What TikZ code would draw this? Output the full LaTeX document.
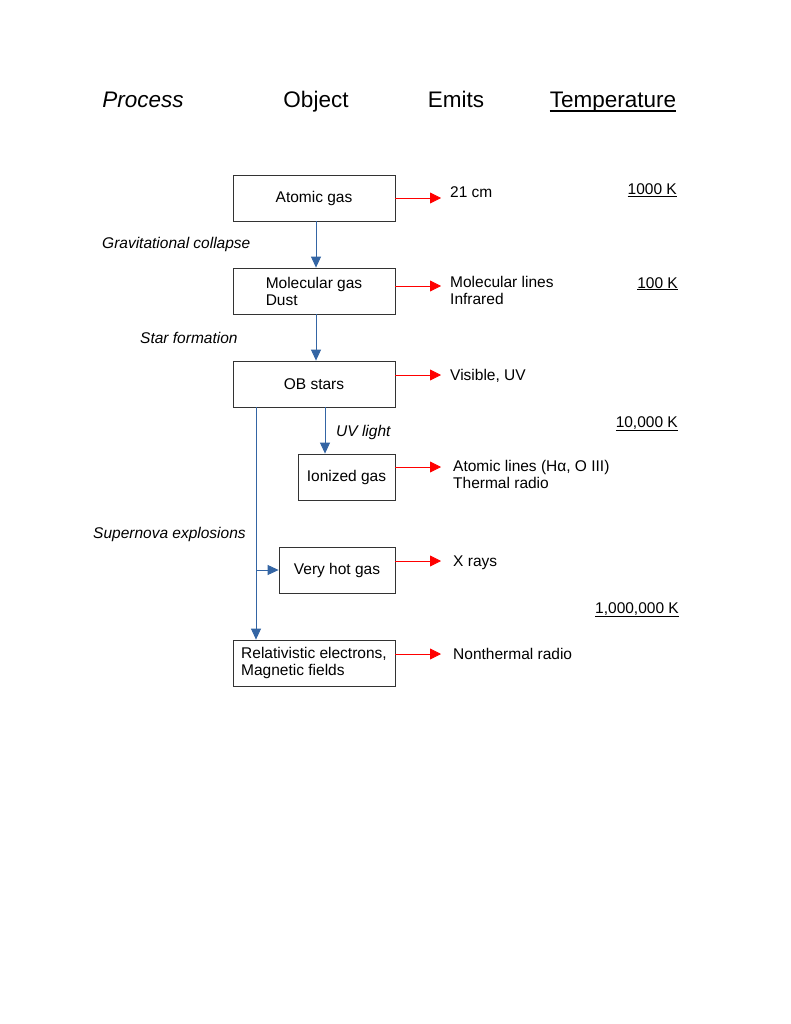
\documentclass[tikz,border=0pt]{standalone}
\usepackage{fontspec}
\setmainfont{Liberation Sans}
\usetikzlibrary{arrows.meta}
\definecolor{flowblue}{HTML}{3465A4}
\definecolor{emitred}{HTML}{FF0000}

\begin{document}
\begin{tikzpicture}[x=1pt,y=-1pt,font=\fontsize{15.5}{17}\selectfont]
\tikzset{
% boxes for objects and plain text labels
object/.style={draw=black!80,line width=0.8pt,minimum width=162pt,minimum height=46pt,align=left,inner sep=2pt},
txt/.style={inner sep=0pt,anchor=base west,align=left},
proc/.style={txt,font=\fontsize{15.5}{17}\selectfont\itshape},
temp/.style={inner sep=0pt,anchor=base east},
head/.style={inner sep=0pt,anchor=base,font=\fontsize{22.5}{26}\selectfont},
flow/.style={draw=flowblue,line width=0.8pt,-{Triangle[width=10pt,length=11pt]},color=flowblue},
emit/.style={draw=emitred,line width=0.8pt,-{Triangle[width=11pt,length=11pt]},color=emitred}
}
\useasboundingbox (0,0) rectangle (791,1024);

% column heads
\node[head,font=\fontsize{22.5}{26}\selectfont\itshape] (hproc) at (143,108) {Process};
\node[head] (hobj) at (316,108) {Object};
\node[head] (hemit) at (456,108) {Emits};
\node[head] (htemp) at (613,108) {Temperature};
\draw[line width=1.1pt] ([yshift=-3pt]htemp.base west) -- ([yshift=-3pt]htemp.base east);

% the objects
\node[object] (atomic) at (314,198) {Atomic gas};
\node[object] (molec) at (314,291) {Molecular gas\\Dust};
\node[object] (ob) at (314,384) {OB stars};
\node[object,minimum width=97pt] (ionized) at (346.5,477) {Ionized gas};
\node[object,minimum width=116pt] (hot) at (337,570) {Very hot gas};
\node[object] (rel) at (314,663) {Relativistic electrons,\\Magnetic fields};

% what they emit
\node[txt] (e1) at (450,198) {21 cm};
\node[txt,anchor=west] (e2) at (450,290) {Molecular lines\\Infrared};
\node[txt] (e3) at (450,380) {Visible, UV};
\node[txt,anchor=west] (e4) at (453,474) {Atomic lines (H\char"03B1, O III)\\Thermal radio};
\node[txt] (e5) at (453,566) {X rays};
\node[txt] (e6) at (453,659) {Nonthermal radio};
\coordinate (t1) at (441,198);
\coordinate (t2) at (441,286);
\coordinate (t3) at (441,375);
\coordinate (t4) at (441,467);
\coordinate (t5) at (441,561);
\coordinate (t6) at (441,654);
\draw[emit] (atomic.east |- t1) -- (t1);
\draw[emit] (molec.east |- t2) -- (t2);
\draw[emit] (ob.east |- t3) -- (t3);
\draw[emit] (ionized.east |- t4) -- (t4);
\draw[emit] (hot.east |- t5) -- (t5);
\draw[emit] (rel.east |- t6) -- (t6);

% processes
\node[proc] (p1) at (102,248) {Gravitational collapse};
\node[proc] (p2) at (140,343) {Star formation};
\node[proc] (p3) at (336,436) {UV light};
\node[proc] (p4) at (93,538) {Supernova explosions};
\draw[flow] (atomic.south -| 316,0) -- (molec.north -| 316,0);
\draw[flow] (molec.south -| 316,0) -- (ob.north -| 316,0);
\draw[flow] (ob.south -| 325,0) -- (ionized.north -| 325,0);
\draw[flow] (ob.south -| 256,0) -- (rel.north -| 256,0);
\coordinate (sn) at (256,570);
\draw[flow] (sn) -- (hot.west);

% temperatures
\node[temp] (k1) at (677,195) {\underline{1000 K}};
\node[temp] (k2) at (678,288) {\underline{100 K}};
\node[temp] (k3) at (678,427) {\underline{10,000 K}};
\node[temp] (k4) at (679,613) {\underline{1,000,000 K}};
\end{tikzpicture}
\end{document}
